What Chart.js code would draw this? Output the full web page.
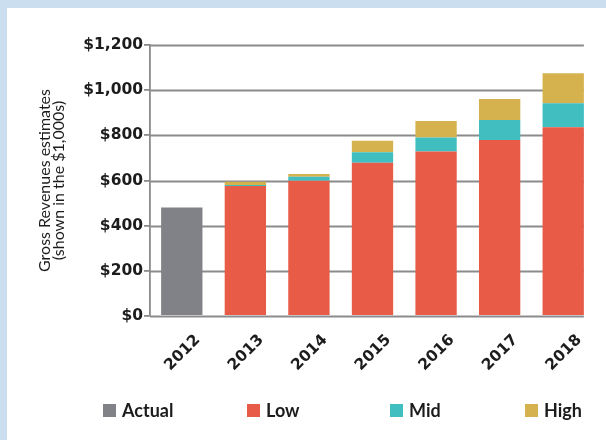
<!DOCTYPE html>
<html>
<head>
<meta charset="utf-8">
<script src="https://cdn.jsdelivr.net/npm/chart.js@4/dist/chart.umd.min.js"></script>
<style>
  html, body { margin: 0; padding: 0; }
  body { width: 606px; height: 440px; background: #cadeef; position: relative; overflow: hidden; font-family: Lato, "Open Sans", sans-serif; }
  #panel { position: absolute; left: 7px; top: 8px; width: 599px; height: 432px; background: #ffffff; }
  #chart { position: absolute; left: 0; top: 0; }
  #legend { position: absolute; left: 0; top: 0; width: 599px; height: 432px; pointer-events: none; }
  .item { position: absolute; top: 391px; display: flex; align-items: center; font-weight: 700; font-size: 18px; color: #1c1c1c; }
  .swatch { width: 13px; height: 13px; margin-right: 6px; }
</style>
</head>
<body>
<div id="panel">
  <canvas id="chart" width="599" height="432"></canvas>
  <div id="legend"></div>
</div>
<script>
// Gross revenue estimates, in thousands of dollars
const years  = ['2012', '2013', '2014', '2015', '2016', '2017', '2018'];
const actual = [480, null, null, null, null, null, null];
const low    = [null, 576, 599, 679, 728, 779, 836];
const mid    = [null, 4, 18, 46, 62, 89, 106];
const high   = [null, 14, 12, 51, 74, 93, 133];
const yTicks = [0, 200, 400, 600, 800, 1000, 1200];

const colors = { actual: '#818287', low: '#e85b46', mid: '#41bec0', high: '#d5b24d' };
const gridColor = '#8b8b8d';
const tickFont = { family: '"DejaVu Sans"', size: 15.5, weight: 'bold' };

// Horizontal rules that stop at the right edge of the last bar
const shortGrid = {
  id: 'shortGrid',
  beforeDatasetsDraw(chart) {
    const { ctx, chartArea, scales: { y } } = chart;
    const meta = chart.getDatasetMeta(1);
    const last = meta.data[meta.data.length - 1];
    const right = last.x + last.width / 2;
    ctx.save();
    ctx.strokeStyle = gridColor;
    ctx.lineWidth = 1.8;
    y.ticks.forEach(t => {
      const py = Math.round(y.getPixelForValue(t.value)) + 0.5;
      ctx.beginPath();
      ctx.moveTo(chartArea.left, py);
      ctx.lineTo(right, py);
      ctx.stroke();
    });
    ctx.restore();
  }
};

const chart = new Chart(document.getElementById('chart'), {
  type: 'bar',
  data: {
    labels: years,
    datasets: [
      { label: 'Actual', data: actual, backgroundColor: colors.actual },
      { label: 'Low', data: low, backgroundColor: colors.low },
      { label: 'Mid', data: mid, backgroundColor: colors.mid },
      { label: 'High', data: high, backgroundColor: colors.high }
    ]
  },
  options: {
    responsive: false,
    animation: false,
    events: [],
    layout: { padding: { top: 37, right: 11, left: 0, bottom: 64 } },
    datasets: { bar: { barPercentage: 0.65, categoryPercentage: 1.0, borderWidth: 0 } },
    plugins: { legend: { display: false }, tooltip: { enabled: false } },
    scales: {
      x: {
        stacked: true,
        grid: { display: false, drawTicks: false },
        border: { display: false },
        ticks: {
          maxRotation: 45, minRotation: 45, padding: 15, labelOffset: 16,
          color: '#1c1c1c', font: tickFont
        },
        afterFit(scale) { scale.height = 60; }
      },
      y: {
        stacked: true,
        min: 0, max: 1200,
        afterBuildTicks(scale) { scale.ticks = yTicks.map(v => ({ value: v })); },
        grid: { drawOnChartArea: false, drawTicks: true, tickLength: 6, color: gridColor, lineWidth: 1.8 },
        border: { display: true, color: gridColor, width: 1.8 },
        ticks: {
          padding: 1,
          color: '#1c1c1c',
          font: tickFont,
          callback: v => '$' + Number(v).toLocaleString('en-US')
        },
        title: {
          display: true,
          text: ['Gross Revenues estimates', '(shown in the $1,000s)'],
          color: '#1c1c1c',
          font: { family: 'Lato', size: 16, lineHeight: 0.85 },
          padding: { top: 31, bottom: 0 }
        },
        afterFit(scale) { scale.width = 143; }
      }
    }
  },
  plugins: [shortGrid]
});

// Legend row built from the chart's datasets
const legendLefts = [96, 240, 383, 518];
const legendEl = document.getElementById('legend');
chart.data.datasets.forEach((ds, i) => {
  const item = document.createElement('div');
  item.className = 'item';
  item.style.left = legendLefts[i] + 'px';
  const sw = document.createElement('span');
  sw.className = 'swatch';
  sw.style.background = ds.backgroundColor;
  const tx = document.createElement('span');
  tx.textContent = ds.label;
  item.appendChild(sw);
  item.appendChild(tx);
  legendEl.appendChild(item);
});
</script>
</body>
</html>
